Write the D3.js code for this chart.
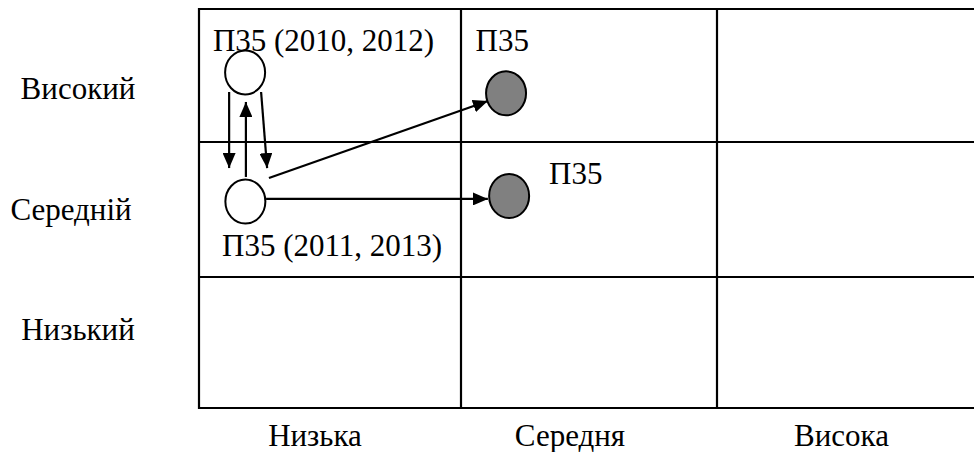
<!DOCTYPE html>
<html>
<head>
<meta charset="utf-8">
<script src="https://cdn.jsdelivr.net/npm/d3@7"></script>
<style>
  body { margin: 0; background: white; font-family: "Liberation Serif", serif; }
</style>
</head>
<body>
<div id="chart"></div>
<script>
// categories of the matrix
var xCats = ["Низька", "Середня", "Висока"];
var yCats = ["Високий", "Середній", "Низький"];

// circles, in cell units (column, row from top)
var nodeX = [0.176, 0.177, 1.176, 1.188];
var nodeY = [0.477, 1.441, 0.634, 1.400];
var nodeFill = ["white", "white", "#808080", "#808080"];

// arrows, in cell units: start -> tip
var arrowX1 = [0.115, 0.179, 0.237, 0.267, 0.256];
var arrowY1 = [0.624, 1.259, 0.624, 1.267, 1.422];
var arrowX2 = [0.115, 0.179, 0.260, 1.105, 1.105];
var arrowY2 = [1.193, 0.699, 1.193, 0.692, 1.422];

// labels near circles
var labelText = ["П35 (2010, 2012)", "П35", "П35", "П35 (2011, 2013)"];
var labelX = [0.053, 1.057, 1.344, 0.088];
var labelY = [0.316, 0.316, 1.311, 1.844];

var width = 974, height = 452;
var TXT = "font-family:'Liberation Serif';font-size:31px";

var svg = d3.select("#chart")
  .append("svg")
  .attr("width", width)
  .attr("height", height)
  .attr("font-family", "Liberation Serif")
  .attr("font-size", 31);

svg.append("style").text("text { font-family: 'Liberation Serif'; font-size: 31px; }");

// piecewise scales so the cells come out like the picture
var x = d3.scaleLinear().domain([0, 1, 2, 3]).range([199, 461, 717, 976]);
var y = d3.scaleLinear().domain([0, 1, 2, 3]).range([9, 142, 277, 408]);

// arrow head
svg.append("defs").append("marker")
  .attr("id", "head")
  .attr("markerUnits", "userSpaceOnUse")
  .attr("viewBox", "0 0 15 13")
  .attr("refX", 15)
  .attr("refY", 6.5)
  .attr("markerWidth", 15)
  .attr("markerHeight", 13)
  .attr("orient", "auto")
  .append("path")
  .attr("d", "M0,0 L15,6.5 L0,13 Z")
  .attr("fill", "black");

// grid
svg.append("g").selectAll("line")
  .data(d3.range(4))
  .join("line")
  .attr("x1", d => x(d)).attr("x2", d => x(d))
  .attr("y1", y(0) - 1).attr("y2", y(3) + 1)
  .attr("stroke", "black").attr("stroke-width", 2.2);
svg.append("g").selectAll("line")
  .data(d3.range(4))
  .join("line")
  .attr("y1", d => y(d)).attr("y2", d => y(d))
  .attr("x1", x(0) - 1).attr("x2", x(3) + 1)
  .attr("stroke", "black").attr("stroke-width", 2.2);

// row labels (left)
var rowNudgeX = [2, -5, 2];
var rowNudgeY = [23, 10, -3];
svg.append("g").selectAll("text")
  .data(yCats)
  .join("text")
  .attr("x", (d, i) => 76 + rowNudgeX[i])
  .attr("y", (d, i) => y(i) + rowNudgeY[i] + (y(i + 1) - y(i)) / 2)
  .attr("text-anchor", "middle")
  .attr("font-family", "Liberation Serif")
  .attr("style", TXT)
  .text(d => d);

// column labels (bottom)
var colNudgeX = [-15, -19, -5];
svg.append("g").selectAll("text")
  .data(xCats)
  .join("text")
  .attr("x", (d, i) => x(i + 0.5) + colNudgeX[i])
  .attr("y", 446)
  .attr("text-anchor", "middle")
  .attr("font-family", "Liberation Serif")
  .attr("style", TXT)
  .text(d => d);

// arrows
svg.append("g").selectAll("line")
  .data(arrowX1)
  .join("line")
  .attr("x1", (d, i) => x(arrowX1[i]))
  .attr("y1", (d, i) => y(arrowY1[i]))
  .attr("x2", (d, i) => x(arrowX2[i]))
  .attr("y2", (d, i) => y(arrowY2[i]))
  .attr("stroke", "black")
  .attr("stroke-width", 2.2)
  .attr("marker-end", "url(#head)");

// circles
svg.append("g").selectAll("ellipse")
  .data(nodeX)
  .join("ellipse")
  .attr("cx", (d, i) => x(nodeX[i]))
  .attr("cy", (d, i) => y(nodeY[i]))
  .attr("rx", 20)
  .attr("ry", 22)
  .attr("fill", (d, i) => nodeFill[i])
  .attr("stroke", "black")
  .attr("stroke-width", 2);

// labels
svg.append("g").selectAll("text")
  .data(labelText)
  .join("text")
  .attr("x", (d, i) => x(labelX[i]))
  .attr("y", (d, i) => y(labelY[i]))
  .attr("font-family", "Liberation Serif")
  .attr("style", TXT)
  .text(d => d);
</script>
</body>
</html>
